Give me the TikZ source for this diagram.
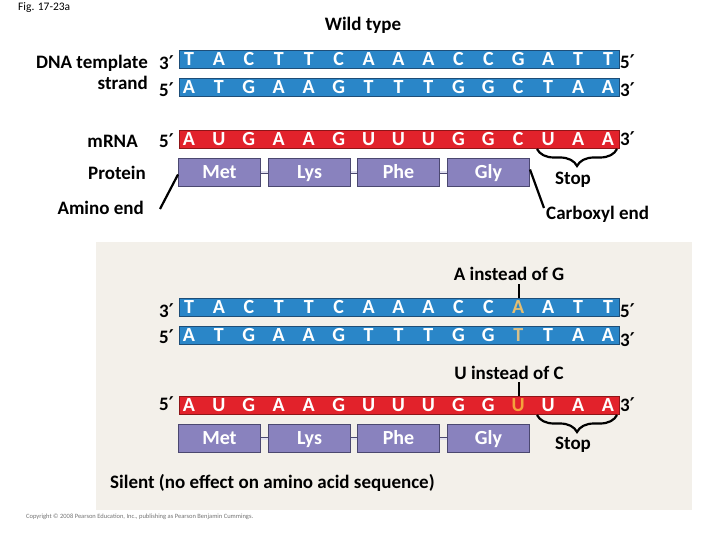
\documentclass[tikz,border=0pt]{standalone}
\usepackage{fontspec}
\setmainfont{Carlito}
\newfontfamily\primefont{DejaVu Sans}
\newcommand\pr{{\primefont\bfseries ′}}
\usetikzlibrary{decorations.pathreplacing}
\definecolor{dnablue}{HTML}{2A86C8}
\definecolor{dnaedge}{HTML}{1E4E78}
\definecolor{rnared}{HTML}{E2222B}
\definecolor{rnaedge}{HTML}{8E1518}
\definecolor{protfill}{HTML}{8982BE}
\definecolor{protedge}{HTML}{4B4870}
\definecolor{panelbg}{HTML}{F3F0EA}
\definecolor{mutA}{HTML}{E4BE72}
\definecolor{mutT}{HTML}{D8C08A}
\definecolor{mutU}{HTML}{F4A23C}
\tikzset{
  dnabar/.style={draw=dnaedge, fill=dnablue, line width=1pt, minimum width=440pt, minimum height=18pt, inner sep=0pt, anchor=north west},
  rnabar/.style={draw=rnaedge, fill=rnared, line width=1pt, minimum width=440pt, minimum height=18pt, inner sep=0pt, anchor=north west},
  base/.style={anchor=base, inner sep=0pt, font=\bfseries\fontsize{20}{20}\selectfont},
  lbl/.style={inner sep=0pt, font=\bfseries\fontsize{19}{20}\selectfont},
  endlbl/.style={inner sep=0pt, anchor=west, font=\bfseries\fontsize{19}{20}\selectfont},
  prot/.style={draw=protedge, fill=protfill, line width=1pt, minimum width=82pt, minimum height=28pt, inner sep=0pt, anchor=north west, text=white, text height=14.5pt, text depth=2pt, font=\bfseries\fontsize{20}{20}\selectfont},
  pepbond/.style={draw=protedge, line width=0.8pt, double=protfill!25!white, double distance=2pt},
  pointer/.style={line width=2.2pt, draw=black},
  stopbrace/.style={decorate, decoration={brace, amplitude=17pt, mirror}, line width=2.2pt},
  tick/.style={line width=2pt}
}
\begin{document}
\begin{tikzpicture}[x=1pt,y=-1pt]
\useasboundingbox (0,0) rectangle (720,540);
\node[anchor=west, inner sep=0pt, font=\fontsize{11.5}{12}\selectfont] (fig) at (18,8) {Fig. 17-23a};
\node[lbl] (wild) at (363,25) {Wild type};

% ---------- wild type ----------
\node[dnabar] (wt1) at (179,50.5) {};
\node[dnabar] (wt2) at (179,78) {};
\node[rnabar] (wrna) at (179,130) {};
\foreach \c [count=\i from 0] in {T,A,C,T,T,C,A,A,A,C,C,G,A,T,T}
  \node[base, text=white] (wta\i) at ({189+29.93*\i},66) {\c};
\foreach \c [count=\i from 0] in {A,T,G,A,A,G,T,T,T,G,G,C,T,A,A}
  \node[base, text=white] (wtb\i) at ({189+29.93*\i},93.5) {\c};
\foreach \c [count=\i from 0] in {A,U,G,A,A,G,U,U,U,G,G,C,U,A,A}
  \node[base, text=white] (wrn\i) at ({189+29.93*\i},145.5) {\c};

\node[lbl, anchor=east] (dnat) at (148,63) {DNA template};
\node[lbl, anchor=east] (dnas) at (148,83) {strand};
\node[lbl, anchor=east] (w3a) at (174,63) {3\pr};
\node[lbl, anchor=east] (w5a) at (174,90) {5\pr};
\node[lbl, anchor=west] (w5b) at (620,62) {5\pr};
\node[lbl, anchor=west] (w3b) at (620,90) {3\pr};
\node[lbl, anchor=east] (mrna) at (138,141) {m\kern0.3ptRNA};
\node[lbl, anchor=east] (w5r) at (174,141) {5\pr};
\node[lbl, anchor=west] (w3r) at (620,139) {3\pr};
\node[lbl, anchor=east] (protl) at (146,173) {Protein};

\node[prot] (met) at (178,158) {Met};
\node[prot] (lys) at (268,158) {Lys};
\node[prot] (phe) at (357,158) {Phe};
\node[prot] (gly) at (447,158) {Gly};
\draw[pepbond] (met.east) -- (lys.west);
\draw[pepbond] (lys.east) -- (phe.west);
\draw[pepbond] (phe.east) -- (gly.west);

\coordinate (wbs) at (537,149);
\coordinate (wbe) at (617,149);
\draw[stopbrace] (wbs) -- (wbe);
\node[lbl] (wstop) at (573,180) {Stop};

\node[lbl, anchor=east] (amino) at (144,208) {Amino end};
\coordinate (aminotip) at (160,209);
\draw[pointer] ([yshift=-2pt]met.west) -- (aminotip);
\node[endlbl] (carb) at (546,214) {Carboxyl end};
\coordinate (carbtip) at (544,208);
\draw[pointer] ([yshift=3pt]gly.east) -- (carbtip);

% ---------- mutant panel ----------
\node[fill=panelbg, inner sep=0pt, minimum width=596pt, minimum height=268pt, anchor=north west] (panel) at (96,242) {};

\node[dnabar] (mt1) at (179,298) {};
\node[dnabar] (mt2) at (179,326) {};
\node[rnabar] (mrn) at (179,396) {};
\foreach \c/\col [count=\i from 0] in {T/white,A/white,C/white,T/white,T/white,C/white,A/white,A/white,A/white,C/white,C/white,A/mutA,A/white,T/white,T/white}
  \node[base, text=\col] (mta\i) at ({189+29.93*\i},313.5) {\c};
\foreach \c/\col [count=\i from 0] in {A/white,T/white,G/white,A/white,A/white,G/white,T/white,T/white,T/white,G/white,G/white,T/mutT,T/white,A/white,A/white}
  \node[base, text=\col] (mtb\i) at ({189+29.93*\i},341.5) {\c};
\foreach \c/\col [count=\i from 0] in {A/white,U/white,G/white,A/white,A/white,G/white,U/white,U/white,U/white,G/white,G/white,U/mutU,U/white,A/white,A/white}
  \node[base, text=\col] (mrl\i) at ({189+29.93*\i},411.5) {\c};

\node[lbl, anchor=east] (m3a) at (174,311) {3\pr};
\node[lbl, anchor=east] (m5a) at (174,337) {5\pr};
\node[lbl, anchor=west] (m5b) at (620,311) {5\pr};
\node[lbl, anchor=west] (m3b) at (620,340) {3\pr};
\node[lbl, anchor=east] (m5r) at (174,404) {5\pr};
\node[lbl, anchor=west] (m3r) at (620,405) {3\pr};

\node[lbl] (ainst) at (509,274) {A instead of G};
\coordinate (atop) at (519,284);
\draw[tick] (atop) -- (mt1.north -| atop);
\node[lbl] (uinst) at (509,373) {U instead of C};
\coordinate (utop) at (519,382);
\draw[tick] (utop) -- (mrn.north -| utop);

\node[prot] (mmet) at (178,424) {Met};
\node[prot] (mlys) at (268,424) {Lys};
\node[prot] (mphe) at (357,424) {Phe};
\node[prot] (mgly) at (447,424) {Gly};
\draw[pepbond] (mmet.east) -- (mlys.west);
\draw[pepbond] (mlys.east) -- (mphe.west);
\draw[pepbond] (mphe.east) -- (mgly.west);

\coordinate (mbs) at (537,415);
\coordinate (mbe) at (617,415);
\draw[stopbrace] (mbs) -- (mbe);
\node[lbl] (mstop) at (573,445) {Stop};

\node[lbl, anchor=west] (silent) at (110,483) {Silent (no effect on amino acid sequence)};

\node[anchor=west, inner sep=0pt, text=black!55, font=\fontsize{6.5}{7}\selectfont] (copy) at (26,517) {Copyright © 2008 Pearson Education, Inc., publishing as Pearson Benjamin Cummings.};
\end{tikzpicture}
\end{document}
